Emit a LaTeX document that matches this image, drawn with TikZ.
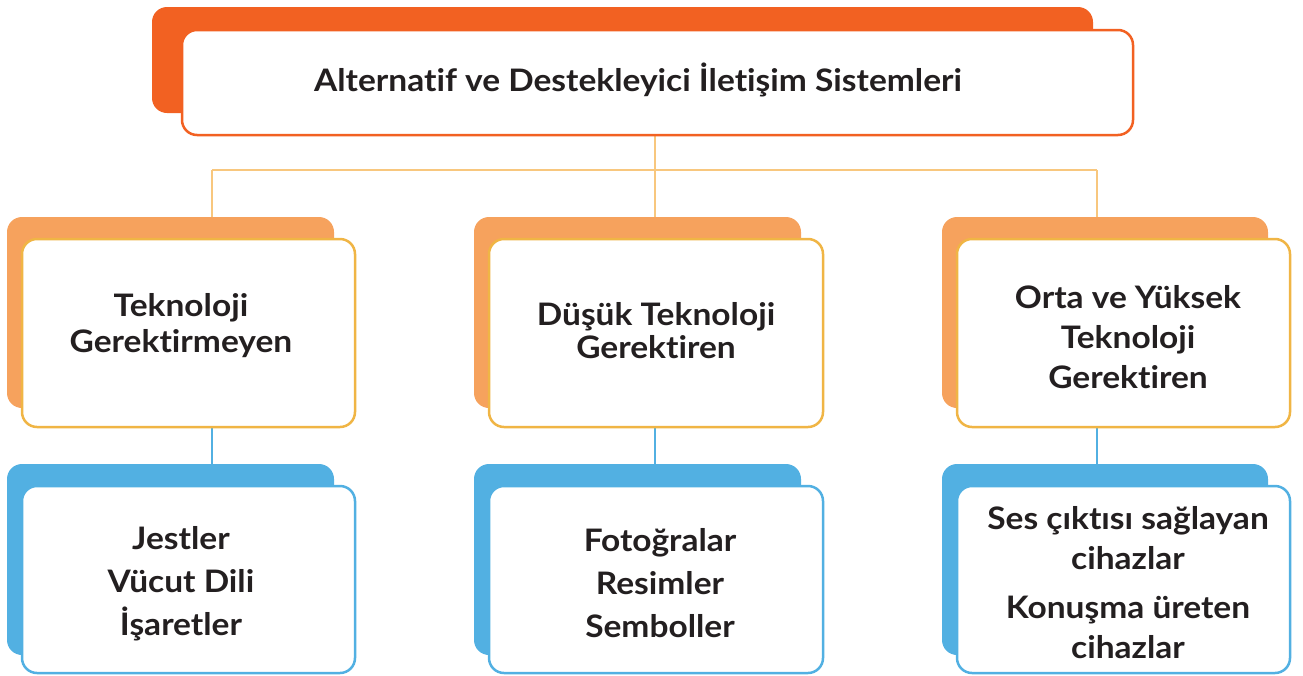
\documentclass[tikz,border=0pt]{standalone}
\usepackage{fontspec}
\setmainfont{Lato}[UprightFont=* Bold,FakeStretch=1.08,Ligatures=NoCommon]
\definecolor{topor}{HTML}{F26122}
\definecolor{midor}{HTML}{F6A25D}
\definecolor{midbd}{HTML}{F0B545}
\definecolor{blu}{HTML}{52B0E2}
\definecolor{conor}{HTML}{F8C77E}
\definecolor{ink}{HTML}{231F20}
\begin{document}
\begin{tikzpicture}[x=1pt,y=-1pt,
  back/.style={rounded corners=15pt},
  front/.style={draw,line width=2.5pt,fill=white,rounded corners=15pt,inner sep=0pt},
  txt/.style={text=ink,align=center,inner sep=0pt,font=\fontsize{31}{36}\selectfont},
  conn/.style={line width=2pt}]
\useasboundingbox (0,0) rectangle (1303,675);
% connectors
\coordinate (hl) at (212,170);
\coordinate (hm) at (655,170);
\coordinate (hr) at (1097,170);
\draw[conn,conor] (655,135) coordinate (ts) -- (hm);
\draw[conn,conor] (hl) -- (hr);
\draw[conn,conor] (hl) -- (212,240) coordinate (ml);
\draw[conn,conor] (hm) -- (655,240) coordinate (mm);
\draw[conn,conor] (hr) -- (1097,240) coordinate (mr);
\draw[conn,blu] (212,426) coordinate (mls) -- (212,487) coordinate (bl);
\draw[conn,blu] (655,426) coordinate (mms) -- (655,487) coordinate (bm);
\draw[conn,blu] (1097,426) coordinate (mrs) -- (1097,487) coordinate (br);
% title
\fill[back,topor] (152,7) rectangle (1093,113);
\node[front,draw=topor,minimum width=951pt,minimum height=105pt] (title) at (657.5,82.5) {};
\node[txt,font=\fontsize{31}{34}\selectfont] (tt) at (638,80) {Alternatif ve Destekleyici İletişim Sistemleri};
% middle row
\fill[back,midor] (7,217) rectangle (334,408);
\node[front,draw=midbd,minimum width=333pt,minimum height=188pt] (m1) at (188.5,333) {};
\fill[back,midor] (474,217) rectangle (801,408);
\node[front,draw=midbd,minimum width=334pt,minimum height=188pt] (m2) at (656,333) {};
\fill[back,midor] (942,217) rectangle (1268,408);
\node[front,draw=midbd,minimum width=333pt,minimum height=188pt] (m3) at (1123.5,333) {};
\node[txt] (t1) at (181,326) {Teknoloji\\Gerektirmeyen};
\node[txt,font=\fontsize{31}{33}\selectfont] (t2) at (656,331) {Düşük Teknoloji\\Gerektiren};
\node[txt,font=\fontsize{31}{40}\selectfont] (t3) at (1128,337) {Orta ve Yüksek\\Teknoloji\\Gerektiren};
% bottom row
\fill[back,blu] (7,464) rectangle (334,655);
\node[front,draw=blu,minimum width=333pt,minimum height=187pt] (b1) at (188.5,579.5) {};
\fill[back,blu] (474,464) rectangle (801,655);
\node[front,draw=blu,minimum width=334pt,minimum height=187pt] (b2) at (656,579.5) {};
\fill[back,blu] (942,464) rectangle (1268,655);
\node[front,draw=blu,minimum width=333pt,minimum height=187pt] (b3) at (1123.5,579.5) {};
\node[txt,font=\fontsize{31}{43}\selectfont] (u1) at (181,584) {Jestler\\Vücut Dili\\İşaretler};
\node[txt,font=\fontsize{31}{43}\selectfont] (u2) at (660,583) {Fotoğralar\\Resimler\\Semboller};
\node[txt,font=\fontsize{31}{40}\selectfont] (u3) at (1128,583) {Ses çıktısı sağlayan\\cihazlar\\[9pt]Konuşma üreten\\cihazlar};
\end{tikzpicture}
\end{document}
